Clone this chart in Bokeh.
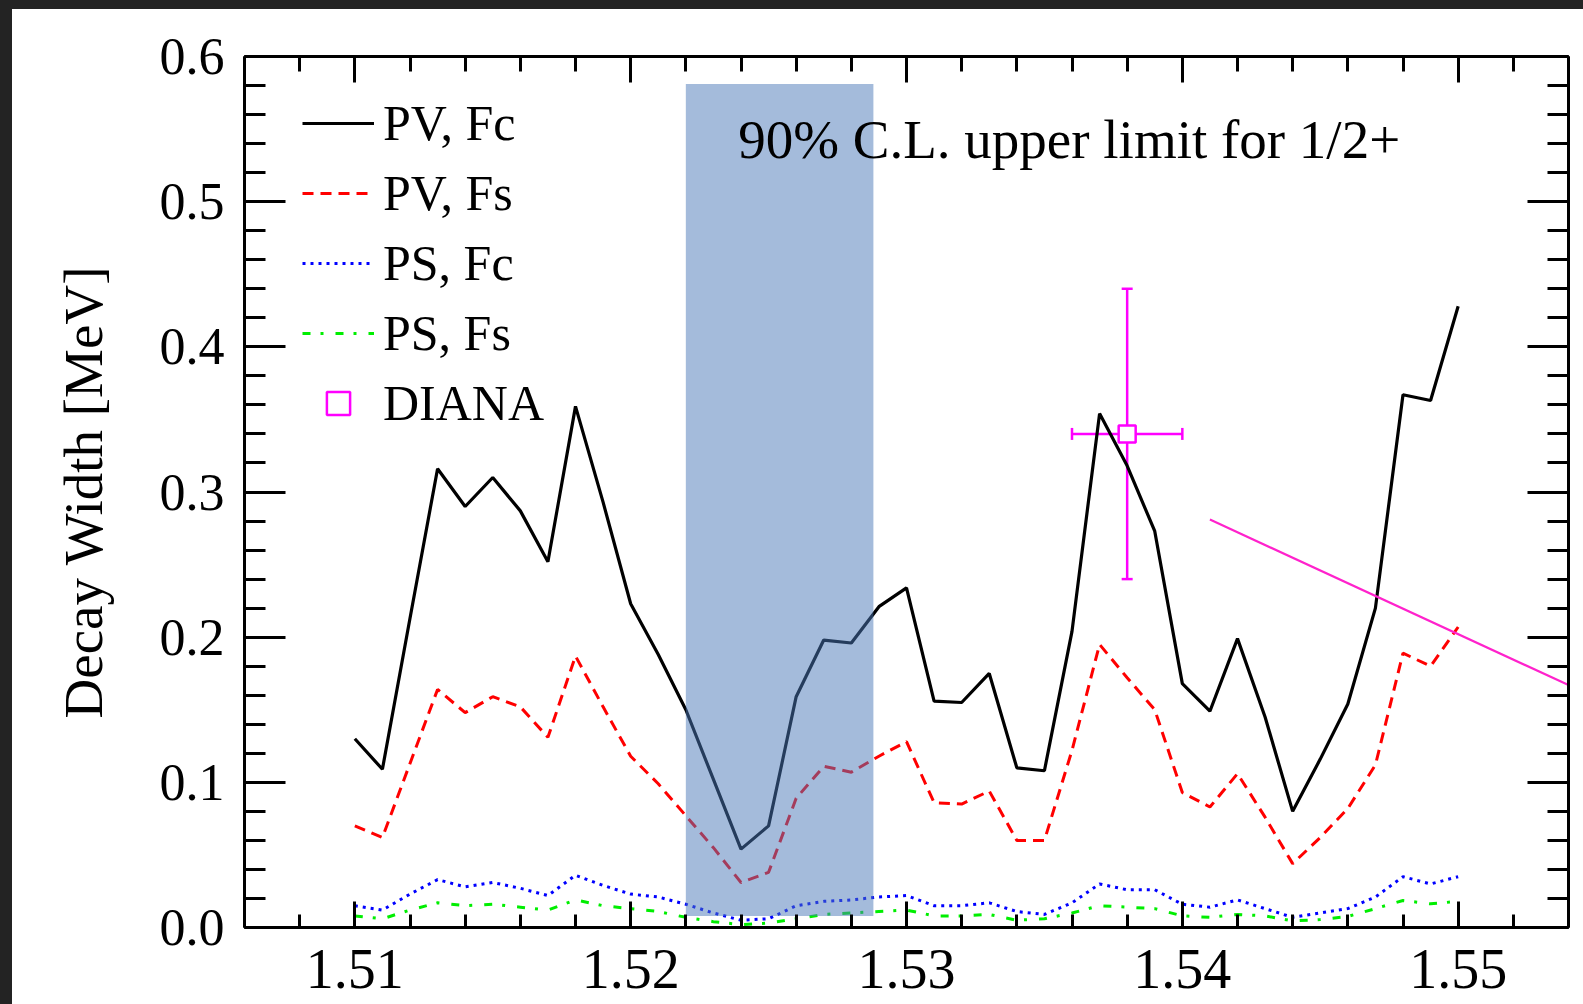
import numpy as np
from bokeh.plotting import figure
from bokeh.models import (ColumnDataSource, FixedTicker, PrintfTickFormatter, LinearAxis,
                          Range1d, Legend, LegendItem, Label, Whisker, TeeHead, Div,
                          CustomLabelingPolicy)
from bokeh.layouts import column, row
from bokeh.embed import file_html
from bokeh.resources import INLINE

# ---------------- data ----------------
mass = [1.510, 1.511, 1.512, 1.513, 1.514, 1.515, 1.516, 1.517, 1.518, 1.519,
        1.520, 1.521, 1.522, 1.523, 1.524, 1.525, 1.526, 1.527, 1.528, 1.529,
        1.530, 1.531, 1.532, 1.533, 1.534, 1.535, 1.536, 1.537, 1.538, 1.539,
        1.540, 1.541, 1.542, 1.543, 1.544, 1.545, 1.546, 1.547, 1.548, 1.549,
        1.550]

pv_fc = [0.130, 0.109, 0.213, 0.316, 0.290, 0.310, 0.287, 0.252, 0.359, 0.293,
         0.223, 0.188, 0.150, 0.102, 0.054, 0.070, 0.159, 0.198, 0.196, 0.221,
         0.234, 0.156, 0.155, 0.175, 0.110, 0.108, 0.204, 0.354, 0.318, 0.273,
         0.168, 0.149, 0.199, 0.145, 0.080, 0.116, 0.154, 0.220, 0.367, 0.363,
         0.428]

pv_fs = [0.070, 0.062, 0.113, 0.164, 0.148, 0.159, 0.152, 0.131, 0.187, 0.152,
         0.118, 0.099, 0.077, 0.055, 0.031, 0.038, 0.089, 0.111, 0.107, 0.118,
         0.128, 0.086, 0.085, 0.094, 0.060, 0.060, 0.122, 0.195, 0.172, 0.150,
         0.093, 0.083, 0.106, 0.076, 0.044, 0.062, 0.082, 0.112, 0.189, 0.180,
         0.207]

ps_fc = [0.015, 0.012, 0.023, 0.033, 0.028, 0.031, 0.027, 0.022, 0.036, 0.029,
         0.023, 0.021, 0.016, 0.010, 0.005, 0.006, 0.015, 0.018, 0.019, 0.021,
         0.022, 0.015, 0.015, 0.017, 0.011, 0.009, 0.017, 0.030, 0.026, 0.026,
         0.016, 0.014, 0.019, 0.013, 0.007, 0.010, 0.013, 0.021, 0.035, 0.030,
         0.035]

ps_fs = [0.008, 0.006, 0.012, 0.017, 0.015, 0.016, 0.014, 0.012, 0.019, 0.015,
         0.013, 0.011, 0.007, 0.004, 0.002, 0.003, 0.006, 0.009, 0.010, 0.011,
         0.012, 0.008, 0.008, 0.009, 0.005, 0.006, 0.010, 0.015, 0.014, 0.013,
         0.008, 0.007, 0.009, 0.008, 0.0045, 0.0055, 0.0076, 0.013, 0.0186, 0.0163,
         0.018]

diana_x = [1.538]
diana_y = [0.34]
diana_xerr = [0.002]
diana_yerr = [0.10]

band_x = [1.5220, 1.5288]      # 90% C.L. band, mass range
band_y = [0.008, 0.581]        # band vertical extent

pointer_x = [1.541, 1.554]
pointer_y = [0.281, 0.167]

x_ticks = [1.51, 1.52, 1.53, 1.54, 1.55]
y_ticks = [0.0, 0.1, 0.2, 0.3, 0.4, 0.5, 0.6]

FONT = "Liberation Serif"

# ---------------- figure ----------------
p = figure(width=1571, height=995,
           x_range=Range1d(1.506, 1.554), y_range=Range1d(0.0, 0.6),
           output_backend="svg", toolbar_location=None,
           min_border_left=232, min_border_right=15,
           min_border_top=47, min_border_bottom=77)
p.grid.visible = False
p.outline_line_color = None
p.background_fill_color = "white"
p.border_fill_color = "white"

x_minor = [round(v, 3) for v in np.arange(1.506, 1.5541, 0.002)]
y_minor = [round(v, 2) for v in np.arange(0.0, 0.6001, 0.02)]

no_labels = CustomLabelingPolicy(code="return new Set()")


def style_axis(ax, ticks, minor, fmt, major_len, minor_len, size="50px", labels=True):
    ax.ticker = FixedTicker(ticks=ticks, minor_ticks=minor)
    ax.formatter = PrintfTickFormatter(format=fmt)
    ax.axis_line_width = 3
    ax.axis_line_color = "black"
    ax.major_tick_line_width = 3
    ax.minor_tick_line_width = 3
    ax.major_tick_line_color = "black"
    ax.minor_tick_line_color = "black"
    ax.major_tick_in = major_len
    ax.major_tick_out = 0
    ax.minor_tick_in = minor_len
    ax.minor_tick_out = 0
    ax.major_label_text_font = FONT
    ax.major_label_text_color = "black"
    ax.major_label_text_font_size = size
    if not labels:
        ax.major_label_policy = no_labels
        ax.major_label_standoff = 0


xb = p.xaxis[0]
yl = p.yaxis[0]
style_axis(xb, x_ticks, x_minor, "%.2f", 26, 13, size="56px")
style_axis(yl, y_ticks, y_minor, "%.1f", 41, 21, size="52px")
xb.major_label_standoff = 22
yl.major_label_standoff = 20
yl.axis_label = "Decay Width [MeV]"
yl.axis_label_text_font = FONT
yl.axis_label_text_font_size = "55px"
yl.axis_label_text_font_style = "normal"
yl.axis_label_text_color = "black"
yl.axis_label_standoff = 43

xt = LinearAxis()
style_axis(xt, x_ticks, x_minor, "%.2f", 26, 15, size="8px", labels=False)
p.add_layout(xt, "above")
yr = LinearAxis()
style_axis(yr, y_ticks, y_minor, "%.1f", 41, 21, size="8px", labels=False)
p.add_layout(yr, "right")

# ---------------- curves ----------------
src = ColumnDataSource(dict(m=mass, pv_fc=pv_fc, pv_fs=pv_fs, ps_fc=ps_fc, ps_fs=ps_fs))
r1 = p.line("m", "pv_fc", source=src, line_color="black", line_width=3.2)
r2 = p.line("m", "pv_fs", source=src, line_color="#ff0000", line_width=3, line_dash="11 7")
r3 = p.line("m", "ps_fc", source=src, line_color="#0000ff", line_width=3, line_dash="3 5")
r4 = p.line("m", "ps_fs", source=src, line_color="#00ee00", line_width=3, line_dash="8 10 3 12")

# shaded 90% C.L. band (semi-transparent, over the curves)
p.quad(left=[band_x[0]], right=[band_x[1]], bottom=[band_y[0]], top=[band_y[1]],
       fill_color="#4977b7", fill_alpha=0.5, line_color=None)

# magenta pointer line
p.line(pointer_x, pointer_y, line_color="#ff22cc", line_width=2.2)

# DIANA point with error bars
dsrc = ColumnDataSource(dict(
    x=diana_x, y=diana_y,
    xlo=[a - b for a, b in zip(diana_x, diana_xerr)],
    xhi=[a + b for a, b in zip(diana_x, diana_xerr)],
    ylo=[a - b for a, b in zip(diana_y, diana_yerr)],
    yhi=[a + b for a, b in zip(diana_y, diana_yerr)]))
wv = Whisker(source=dsrc, base="x", lower="ylo", upper="yhi", dimension="height",
             line_color="#ff00ff", line_width=2.5, level="underlay",
             upper_head=TeeHead(size=11, line_color="#ff00ff", line_width=2.5),
             lower_head=TeeHead(size=11, line_color="#ff00ff", line_width=2.5))
wh = Whisker(source=dsrc, base="y", lower="xlo", upper="xhi", dimension="width",
             line_color="#ff00ff", line_width=2.5, level="underlay",
             upper_head=TeeHead(size=12, line_color="#ff00ff", line_width=2.5),
             lower_head=TeeHead(size=12, line_color="#ff00ff", line_width=2.5))
p.add_layout(wv)
p.add_layout(wh)
r5 = p.scatter("x", "y", source=dsrc, marker="square", size=17,
               line_color="#ff00ff", line_width=2.5, fill_color="white")

# annotation text
p.add_layout(Label(x=1.5239, y=0.5425, text="90% C.L. upper limit for 1/2+",
                   text_font=FONT, text_font_size="55px", text_color="black",
                   text_baseline="alphabetic", text_align="left"))

# legend
legend = Legend(items=[
    LegendItem(label="PV, Fc", renderers=[r1]),
    LegendItem(label="PV, Fs", renderers=[r2]),
    LegendItem(label="PS, Fc", renderers=[r3]),
    LegendItem(label="PS, Fs", renderers=[r4]),
    LegendItem(label="DIANA", renderers=[r5]),
], location=(58, 495))
legend.glyph_width = 72
legend.glyph_height = 58
legend.label_height = 58
legend.label_standoff = 9
legend.spacing = 12
legend.padding = 0
legend.margin = 0
legend.border_line_color = None
legend.background_fill_alpha = 0
legend.label_text_font = FONT
legend.label_text_font_size = "50px"
legend.label_text_color = "black"
p.add_layout(legend)

# dark frame strips around the page (as in the reference screenshot)
top_bar = Div(text="", width=1583, height=9, margin=0,
              styles={"background-color": "#232323"})
left_bar = Div(text="", width=12, height=995, margin=0,
               styles={"background-color": "#232323"})
layout = column(top_bar, row(left_bar, p, spacing=0), spacing=0)

open("out.html", "w").write(file_html(layout, INLINE))
